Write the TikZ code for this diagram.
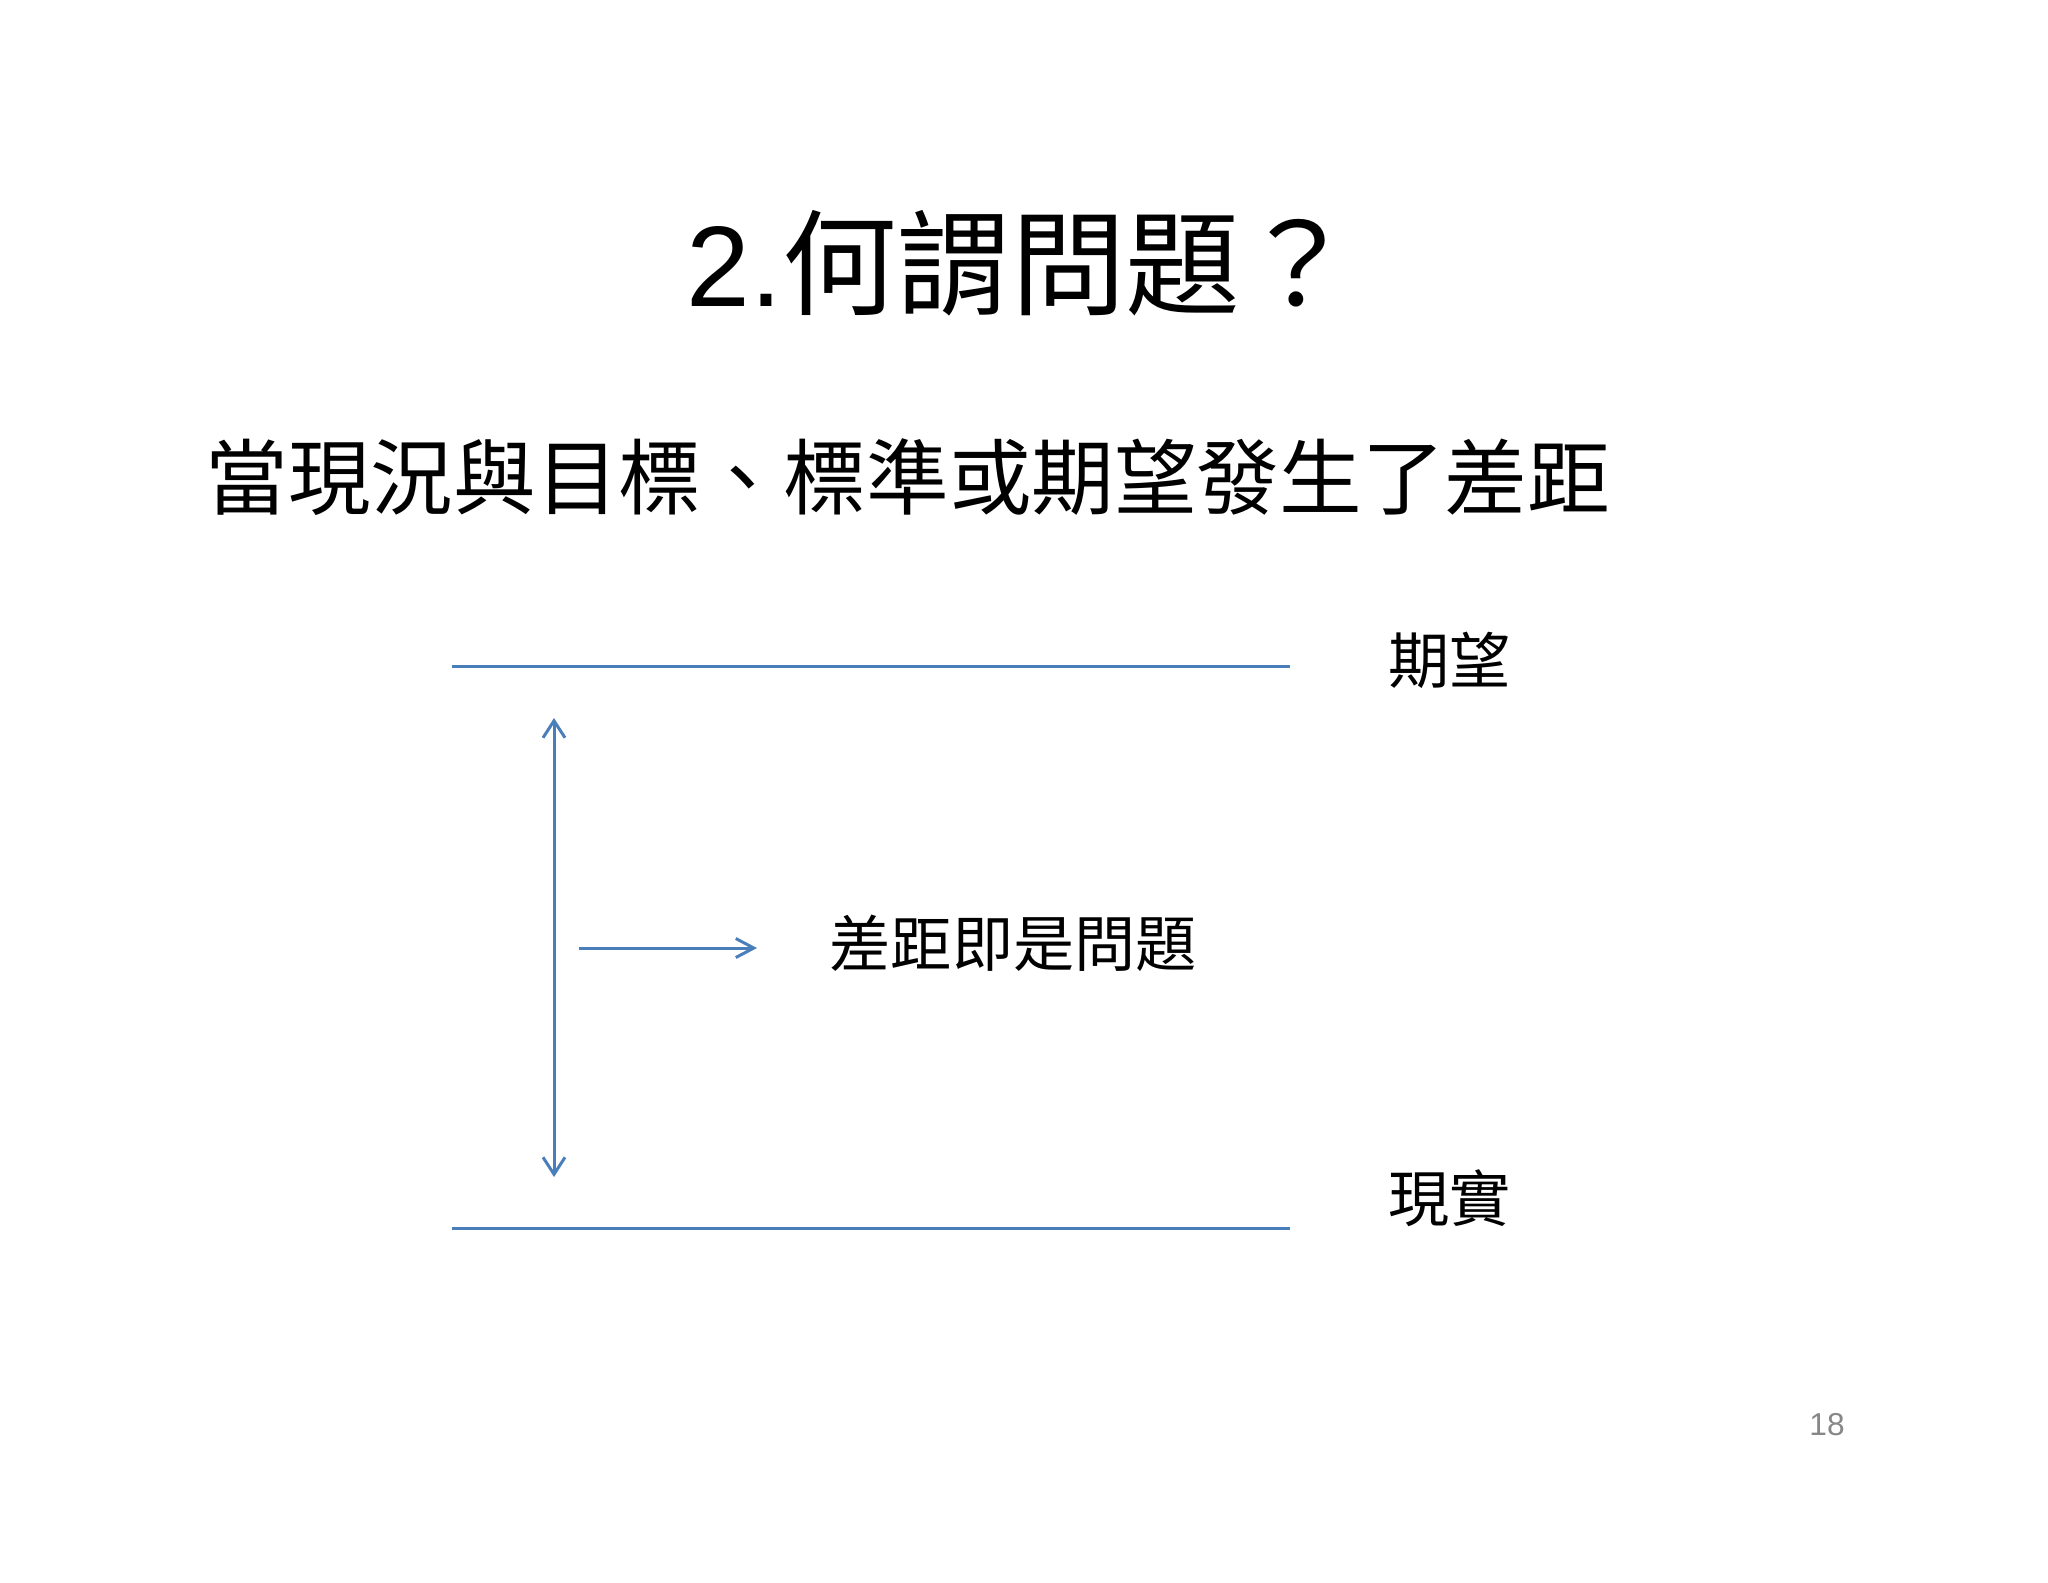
\documentclass[tikz,border=0pt]{standalone}
\usepackage{fontspec}
\setmainfont{Liberation Sans}
\newfontfamily\cjk{Noto Sans CJK TC}
\usetikzlibrary{arrows.meta,positioning}

\definecolor{lineblue}{HTML}{4A7EBB}
\tikzset{
  level/.style={draw=lineblue, line width=0.85pt},
  gap/.style={draw=lineblue, line width=0.85pt, arrows={Straight Barb[length=1.7mm,width=2.2mm]-Straight Barb[length=1.7mm,width=2.2mm]}},
  pointer/.style={draw=lineblue, line width=0.85pt, -{Straight Barb[length=1.8mm,width=1.9mm]}},
  lbl/.style={inner sep=0pt, anchor=west, font=\cjk\fontsize{17.4pt}{20pt}\selectfont}
}

\begin{document}
\begin{tikzpicture}[x=0.1mm, y=-0.1mm]
\useasboundingbox[fill=white] (0,0) rectangle (2048,1582);

% title and statement
\node[inner sep=0pt, anchor=west] (title) at (686,263) {\fontsize{32.6pt}{38pt}\selectfont 2.{\cjk 何謂問題？}};
\node[inner sep=0pt, anchor=west] (stmt) at (205,477)
  {\cjk\fontsize{23.5pt}{28pt}\selectfont 當現況與目標、標準或期望發生了差距};

% the two levels
\coordinate (wantL) at (452,666);
\coordinate (wantR) at (1290,666);
\coordinate (realL) at (452,1228);
\coordinate (realR) at (1290,1228);
\draw[level] (wantL) -- (wantR);
\draw[level] (realL) -- (realR);
\node[lbl] (want) at (1388,660) {期望};
\node[lbl] (real) at (1388,1198) {現實};

% the gap between them
\coordinate (gaptop) at (554,718);
\coordinate (gapbot) at (554,1177);
\draw[gap] (gaptop) -- (gapbot);
\coordinate (ptr) at (579,948);
\coordinate (ptrend) at (757,948);
\draw[pointer] (ptr) -- (ptrend);
\node[lbl] (gaplbl) at (829,943) {差距即是問題};

% page number
\node[text=black!47, font=\fontsize{9pt}{11pt}\selectfont] (page) at (1827,1425) {18};
\end{tikzpicture}
\end{document}
